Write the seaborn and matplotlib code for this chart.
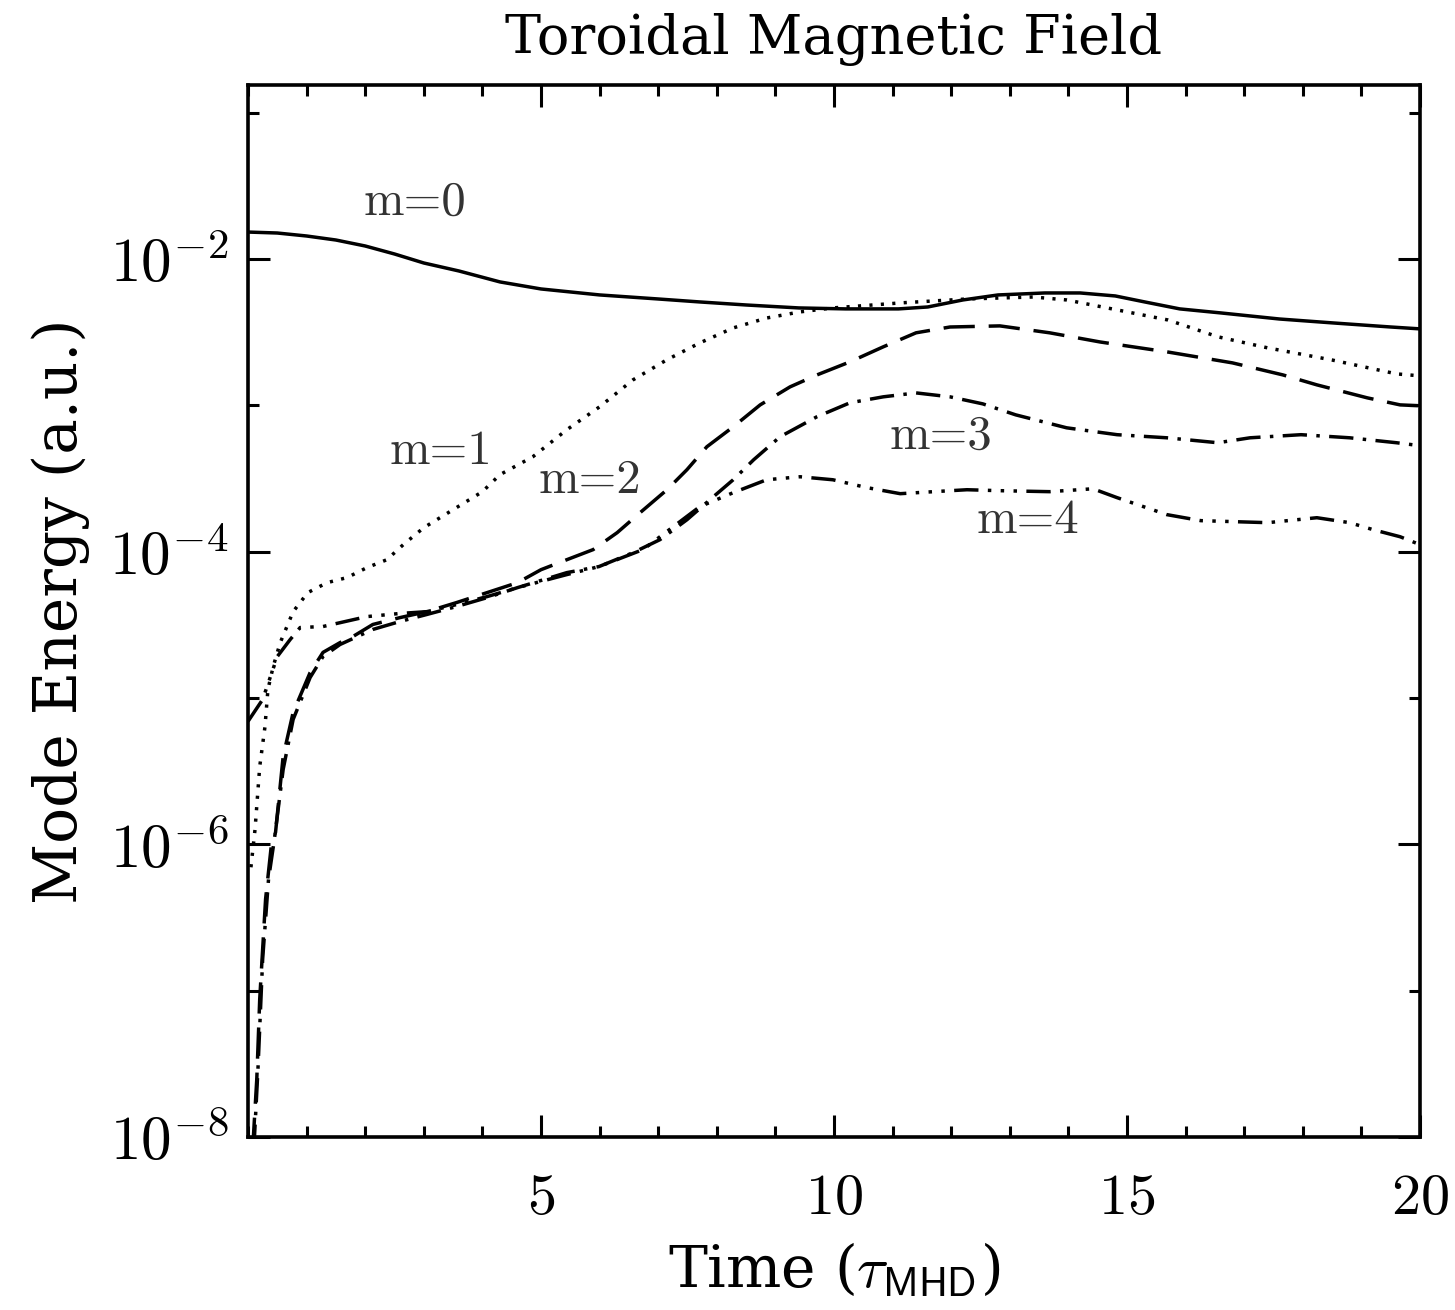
import numpy as np
import pandas as pd
import matplotlib
matplotlib.use("Agg")
import matplotlib.pyplot as plt
import matplotlib.ticker as mticker
import seaborn as sns

# ---------------- data ----------------
t_m0 = [0.0, 0.5, 1.0, 1.5, 2.0, 2.5, 3.0, 3.6, 4.3, 5.0, 6.0, 7.0, 7.7, 8.5, 9.4,
        10.2, 11.1, 11.6, 12.2, 12.8, 13.6, 14.2, 14.8, 15.3, 15.9, 16.6, 17.6,
        18.5, 19.5, 20.0]
e_m0 = [0.01528, 0.01505, 0.01436, 0.01348, 0.01227, 0.01082, 0.00939, 0.00828,
        0.00697, 0.00624, 0.00568, 0.00533, 0.00509, 0.00485, 0.00463, 0.00456,
        0.00456, 0.00470, 0.00525, 0.00568, 0.00586, 0.00586, 0.00559, 0.00509,
        0.00456, 0.00428, 0.00389, 0.00366, 0.00343, 0.00333]

t_m1 = [0.05, 0.12, 0.2, 0.29, 0.34, 0.43, 0.55, 0.77, 1.02, 1.35, 1.69, 2.03,
        2.37, 2.65, 3.0, 3.5, 4.0, 4.3, 4.86, 5.44, 6.0, 6.57, 7.15, 7.71, 8.28,
        8.85, 9.42, 9.98, 11.13, 12.27, 13.4, 13.97, 14.83, 15.7, 16.55, 17.4,
        18.5, 19.6, 20.0]
e_m1 = [6.97e-7, 1.265e-6, 3.40e-6, 6.38e-6, 1.143e-5, 1.64e-5, 2.39e-5, 3.89e-5,
        5.25e-5, 6.14e-5, 6.65e-5, 7.78e-5, 8.81e-5, 1.117e-4, 1.459e-4,
        1.936e-4, 2.57e-4, 3.36e-4, 4.45e-4, 6.81e-4, 9.77e-4, 1.493e-3,
        2.05e-3, 2.67e-3, 3.38e-3, 3.95e-3, 4.35e-3, 4.63e-3, 5.01e-3, 5.33e-3,
        5.50e-3, 5.25e-3, 4.49e-3, 3.83e-3, 2.94e-3, 2.47e-3, 2.04e-3, 1.64e-3,
        1.59e-3]

t_m2 = [0.08, 0.15, 0.2, 0.3, 0.4, 0.47, 0.6, 0.77, 1.06, 1.28, 1.57, 1.79, 2.13,
        2.59, 3.05, 3.56, 4.08, 4.6, 5.0, 5.44, 5.89, 6.3, 6.69, 7.15, 7.49, 7.83,
        8.28, 8.74, 9.25, 9.71, 10.27, 10.84, 11.4, 11.98, 12.83, 13.68, 14.54,
        15.68, 16.8, 17.66, 18.24, 19.1, 19.66, 20.0]
e_m2 = [8.3e-9, 2.49e-8, 8.75e-8, 4.22e-7, 1.0e-6, 1.208e-6, 3.99e-6, 7.96e-6,
        1.493e-5, 2.05e-5, 2.39e-5, 2.63e-5, 3.18e-5, 3.54e-5, 3.89e-5, 4.49e-5,
        5.25e-5, 6.14e-5, 7.53e-5, 8.81e-5, 1.033e-4, 1.349e-4, 1.845e-4,
        2.65e-4, 3.63e-4, 5.21e-4, 7.13e-4, 1.007e-3, 1.337e-3, 1.614e-3,
        1.98e-3, 2.51e-3, 3.13e-3, 3.43e-3, 3.49e-3, 3.13e-3, 2.71e-3, 2.32e-3,
        1.95e-3, 1.614e-3, 1.38e-3, 1.125e-3, 1.007e-3, 9.93e-4]

t_m3 = [0.1, 0.17, 0.25, 0.35, 0.45, 0.6, 0.77, 1.06, 1.28, 1.57, 2.13, 2.59,
        3.05, 3.56, 4.08, 4.6, 5.44, 5.99, 6.57, 7.03, 7.49, 7.94, 8.28, 8.63,
        9.08, 9.71, 10.27, 10.84, 11.4, 11.98, 12.54, 13.1, 13.97, 14.83, 15.68,
        16.55, 17.1, 17.97, 18.8, 19.6, 20.0]
e_m3 = [8.3e-9, 2.91e-8, 1.64e-7, 5.77e-7, 1.081e-6, 3.25e-6, 7.13e-6, 1.38e-5,
        1.92e-5, 2.32e-5, 2.94e-5, 3.33e-5, 3.72e-5, 4.22e-5, 4.85e-5, 5.68e-5,
        7.19e-5, 7.91e-5, 9.84e-5, 1.208e-4, 1.652e-4, 2.37e-4, 3.10e-4,
        4.25e-4, 6.10e-4, 8.36e-4, 1.040e-3, 1.143e-3, 1.216e-3, 1.143e-3,
        1.023e-3, 8.61e-4, 7.02e-4, 6.30e-4, 6.00e-4, 5.55e-4, 6.00e-4, 6.30e-4,
        6.00e-4, 5.55e-4, 5.30e-4]

t_m4 = [0.0, 0.25, 0.5, 0.72, 0.89, 1.28, 1.57, 2.03, 2.59, 3.05, 3.56, 4.08, 4.6,
        5.44, 5.99, 6.74, 7.71, 8.28, 8.85, 9.42, 9.98, 10.56, 11.13, 11.7,
        12.27, 12.83, 13.68, 14.42, 14.83, 15.68, 16.26, 17.4, 18.24, 18.8, 19.2,
        19.66, 20.0]
e_m4 = [6.92e-6, 9.77e-6, 1.92e-5, 2.51e-5, 3.03e-5, 3.08e-5, 3.27e-5, 3.60e-5,
        3.78e-5, 3.89e-5, 4.35e-5, 4.93e-5, 5.68e-5, 6.97e-5, 7.91e-5, 1.033e-4,
        2.03e-4, 2.53e-4, 3.10e-4, 3.25e-4, 3.10e-4, 2.74e-4, 2.49e-4, 2.57e-4,
        2.65e-4, 2.61e-4, 2.57e-4, 2.69e-4, 2.34e-4, 1.791e-4, 1.629e-4,
        1.578e-4, 1.706e-4, 1.578e-4, 1.413e-4, 1.265e-4, 1.117e-4]

modes = ["m=0", "m=1", "m=2", "m=3", "m=4"]
label_t = [2.85, 3.29, 5.84, 11.83, 13.31]
label_e = [0.0241, 4.82e-4, 3.05e-4, 6.10e-4, 1.63e-4]

title = "Toroidal Magnetic Field"
xlabel = r"Time ($\tau_{\mathsf{MHD}}$)"
ylabel = "Mode Energy (a.u.)"
x_major = [5, 10, 15, 20]
y_major = [1e-8, 1e-6, 1e-4, 1e-2]
y_minor = [1e-7, 1e-5, 1e-3, 1e-1]

# ---------------- build table ----------------
frames = []
for name, t, e in zip(modes, [t_m0, t_m1, t_m2, t_m3, t_m4],
                      [e_m0, e_m1, e_m2, e_m3, e_m4]):
    frames.append(pd.DataFrame({"time": t, "energy": e, "mode": name}))
df = pd.concat(frames, ignore_index=True)

# ---------------- style ----------------
sns.set_theme(style="ticks", rc={
    "text.color": "black", "axes.labelcolor": "black",
    "xtick.color": "black", "ytick.color": "black",
    "axes.edgecolor": "black",
})
plt.rcParams["font.family"] = ["DejaVu Serif", "DejaVu Sans"]
plt.rcParams["mathtext.fontset"] = "cm"
plt.rcParams["axes.unicode_minus"] = True

fig = plt.figure(figsize=(14.55, 13.10), dpi=100)
ax = fig.add_axes([248 / 1455, 1 - 1137 / 1310, (1420 - 248) / 1455, (1137 - 85) / 1310])

dash_styles = {
    "m=0": "",
    "m=1": (0.9, 2.4),
    "m=2": (9, 4.0),
    "m=3": (7, 2.7, 1, 2.7),
    "m=4": (7, 2.7, 1, 2.7, 1, 2.7, 1, 2.7),
}
sns.lineplot(data=df, x="time", y="energy", style="mode", dashes=dash_styles,
             color="black", linewidth=2.5, legend=False, ax=ax,
             estimator=None, sort=False)

ax.set_yscale("log")
ax.set_xlim(0, 20)
ax.set_ylim(1e-8, 10 ** -0.811)

ax.xaxis.set_major_locator(mticker.FixedLocator(x_major))
ax.xaxis.set_minor_locator(mticker.MultipleLocator(1))
ax.xaxis.set_major_formatter(mticker.FuncFormatter(lambda v, p: r"$%d$" % round(v)))
ax.yaxis.set_major_locator(mticker.FixedLocator(y_major))
ax.yaxis.set_minor_locator(mticker.FixedLocator(y_minor))
ax.yaxis.set_major_formatter(
    mticker.FuncFormatter(lambda v, p: r"$10^{%d}$" % round(np.log10(v))))
ax.yaxis.set_minor_formatter(mticker.NullFormatter())

for s in ax.spines.values():
    s.set_visible(True)
    s.set_linewidth(2.6)
    s.set_color("black")

ax.tick_params(which="both", direction="in", top=True, right=True,
               width=2.2, color="black", labelcolor="black")
ax.tick_params(which="major", length=16)
ax.tick_params(which="minor", length=8)
ax.tick_params(axis="x", which="major", labelsize=42, pad=24)
ax.tick_params(axis="y", which="major", labelsize=44, pad=14)
ax.grid(False)

ax.set_title(title, fontsize=39, pad=22, color="black")
ax.set_xlabel(xlabel, fontsize=42, labelpad=10, color="black")
ax.set_ylabel(ylabel, fontsize=43, labelpad=14, color="black")

for name, tx, ey in zip(modes, label_t, label_e):
    ax.text(tx, ey, name, fontsize=35, family="cmr10", color="#333333",
            ha="center", va="center")

fig.savefig("out.png", dpi=100)
